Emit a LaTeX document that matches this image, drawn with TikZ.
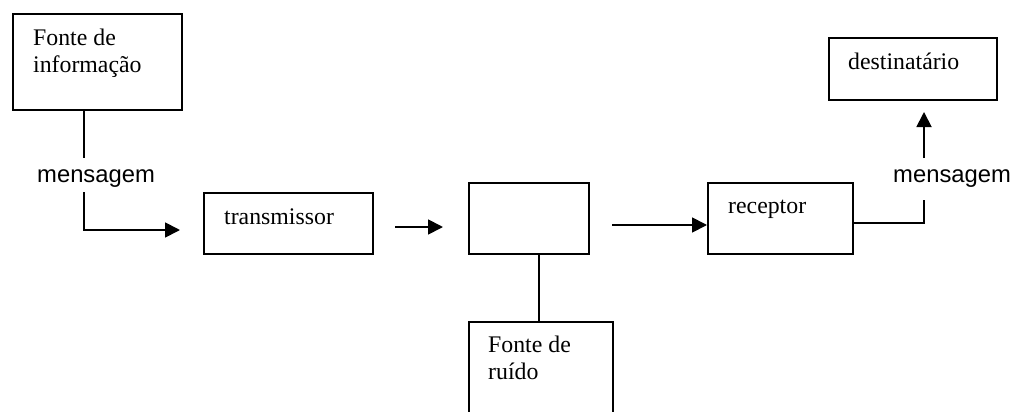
\documentclass[tikz,border=0pt]{standalone}
\usepackage{fontspec}
\setmainfont{Liberation Serif}
\newfontfamily\arialfont{Liberation Sans}
\usetikzlibrary{arrows.meta}
\tikzset{
  box/.style={draw, line width=1.8pt, rectangle, inner sep=0pt, anchor=north west},
  lbl/.style={inner sep=0pt, anchor=base west, font=\fontsize{23.8}{27}\selectfont},
  slbl/.style={inner sep=0pt, anchor=base west, font=\arialfont\fontsize{23.8}{27}\selectfont},
  conn/.style={line width=1.8pt},
  arr/.style={line width=1.8pt, -{Triangle[length=15pt, width=15pt]}}
}
\begin{document}
\begin{tikzpicture}[x=1pt, y=-1pt]
\useasboundingbox[fill=white] (0,0) rectangle (1012,412);
% boxes
\node[box, minimum width=169pt, minimum height=96pt] (fi) at (12,13) {};
\node[box, minimum width=169pt, minimum height=61pt] (tr) at (203,192) {};
\node[box, minimum width=120pt, minimum height=71pt] (ch) at (468,182) {};
\node[box, minimum width=145pt, minimum height=71pt] (re) at (707,182) {};
\node[box, minimum width=168pt, minimum height=62pt] (de) at (828,37) {};
\node[box, minimum width=144pt, minimum height=110pt] (ru) at (468,321) {};
% texts
\node[lbl] (fi1) at (33,46) {Fonte de};
\node[lbl] (fi2) at (33,73) {informação};
\node[lbl] (trt) at (224,224) {transmissor};
\node[lbl] (ret) at (728,213) {receptor};
\node[lbl] (det) at (848,70) {destinatário};
\node[lbl] (ru1) at (488,352) {Fonte de};
\node[lbl] (ru2) at (488,379) {ruído};
\node[slbl] (m1) at (37,182) {mensagem};
\node[slbl] (m2) at (893,182) {mensagem};
% connector coordinates
\coordinate (a1) at (84,158);
\coordinate (a2) at (84,192);
\coordinate (a3) at (84,230);
\coordinate (a4) at (180,230);
\coordinate (b1) at (395,227);
\coordinate (b2) at (443,227);
\coordinate (c1) at (539,253);
\coordinate (d1) at (612,225);
\coordinate (e1) at (924,223);
\coordinate (e2) at (924,200);
\coordinate (e3) at (924,158);
\coordinate (e4) at (924,112);
% connectors
\draw[conn] (a1 |- fi.south) -- (a1);
\draw[arr] (a2) -- (a3) -- (a4);
\draw[arr] (b1) -- (b2);
\draw[conn] (c1) -- (c1 |- ru.north);
\draw[arr] (d1) -- (d1 -| re.west);
\draw[conn] (e1 -| re.east) -- (e1) -- (e2);
\draw[arr] (e3) -- (e4);
\end{tikzpicture}
\end{document}
